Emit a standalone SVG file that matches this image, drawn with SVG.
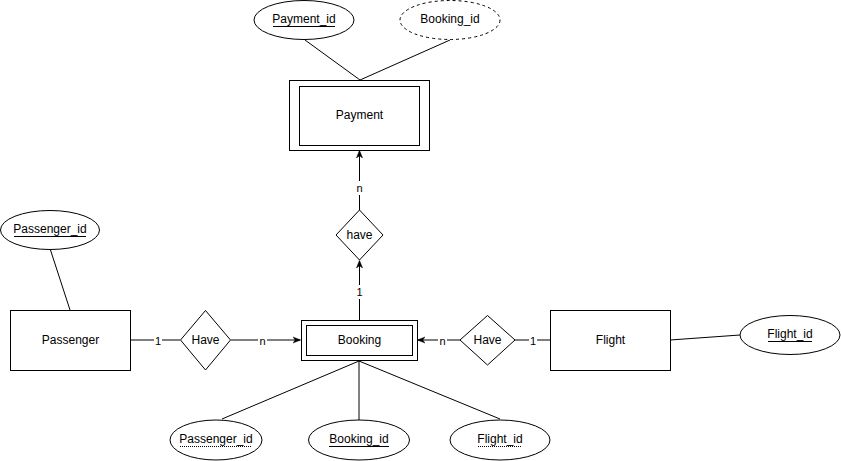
<svg xmlns="http://www.w3.org/2000/svg" width="841" height="461" viewBox="0 0 841 461">
<style>
text{font-family:"Liberation Sans",Arial,sans-serif;font-size:12px;fill:#000;text-anchor:middle;dominant-baseline:central}
.s{fill:#fff;stroke:#000;stroke-width:1}
.d{stroke-dasharray:3 3}
.c{fill:none;stroke:#000;stroke-width:1}
.lb{font-size:11px}
.u{stroke:#000;stroke-width:1}
.du{stroke:#000;stroke-width:1;stroke-dasharray:1 1}
</style>
<defs>
<marker id="arr" viewBox="0 0 10 10" refX="9" refY="5" markerWidth="8" markerHeight="8" orient="auto" markerUnits="userSpaceOnUse">
<path d="M0,1 L10,5 L0,9 L3,5 z" fill="#000" stroke="#000" stroke-width="0.5"/>
</marker>
</defs>
<rect width="841" height="461" fill="#fff"/>
<g id="connectors">
<line class="c" x1="305" y1="40" x2="360" y2="80"/>
<line class="c" x1="450" y1="40" x2="360" y2="80"/>
<line class="c" x1="50.5" y1="250" x2="70" y2="310"/>
<line class="c" x1="670" y1="340" x2="740" y2="335"/>
<line class="c" x1="359" y1="361" x2="222" y2="419"/>
<line class="c" x1="359" y1="361" x2="359" y2="420"/>
<line class="c" x1="359" y1="361" x2="500" y2="419"/>
<line class="c" x1="359.5" y1="210" x2="359.5" y2="151" marker-end="url(#arr)"/>
<line class="c" x1="359.5" y1="320" x2="359.5" y2="261" marker-end="url(#arr)"/>
<line class="c" x1="130" y1="340" x2="180" y2="340"/>
<line class="c" x1="231" y1="340" x2="300" y2="340" marker-end="url(#arr)"/>
<line class="c" x1="550" y1="340" x2="515" y2="340"/>
<line class="c" x1="460" y1="340" x2="418" y2="340" marker-end="url(#arr)"/>
<rect x="355" y="181" width="9" height="14" fill="#fff"/>
<text class="lb" x="359.5" y="188">n</text>
<rect x="355" y="285" width="9" height="14" fill="#fff"/>
<text class="lb" x="359.5" y="292">1</text>
<rect x="154" y="334" width="8" height="13" fill="#fff"/>
<text class="lb" x="158" y="341">1</text>
<rect x="258" y="334" width="9" height="13" fill="#fff"/>
<text class="lb" x="262.5" y="341">n</text>
<rect x="438" y="334" width="9" height="13" fill="#fff"/>
<text class="lb" x="442.5" y="341">n</text>
<rect x="529" y="334" width="8" height="13" fill="#fff"/>
<text class="lb" x="533" y="341">1</text>
</g>
<g id="payment_id">
<ellipse class="s" cx="304" cy="20" rx="50" ry="19.5"/>
<text x="304" y="19">Payment_id</text>
<line class="u" x1="273" y1="26.5" x2="335" y2="26.5"/>
</g>
<g id="payment_booking_id">
<ellipse class="s d" cx="450" cy="20" rx="50" ry="19.5"/>
<text x="450" y="19">Booking_id</text>
</g>
<g id="payment">
<rect class="s" x="289.5" y="80.5" width="140" height="70"/>
<rect class="s" x="299.5" y="86.5" width="120" height="59"/>
<text x="359.5" y="115">Payment</text>
</g>
<g id="have_top">
<path class="s" d="M359.5,210 L383,235 L359.5,260 L336,235 Z"/>
<text x="359.5" y="235">have</text>
</g>
<g id="passenger_id">
<ellipse class="s" cx="50" cy="230" rx="49.5" ry="19.5"/>
<text x="50" y="229">Passenger_id</text>
<line class="u" x1="14" y1="236.5" x2="86" y2="236.5"/>
</g>
<g id="passenger">
<rect class="s" x="10.5" y="310.5" width="120" height="60"/>
<text x="70.5" y="340">Passenger</text>
</g>
<g id="have_left">
<path class="s" d="M205.5,310.5 L230.5,340 L205.5,370 L180.5,340 Z"/>
<text x="205.5" y="340">Have</text>
</g>
<g id="booking">
<rect class="s" x="301.5" y="320.5" width="116" height="40"/>
<rect class="s" x="306.5" y="325.5" width="106" height="30"/>
<text x="359.5" y="340">Booking</text>
</g>
<g id="have_right">
<path class="s" d="M487.5,315.5 L515,340 L487.5,365 L460,340 Z"/>
<text x="487.5" y="340">Have</text>
</g>
<g id="flight">
<rect class="s" x="550.5" y="310.5" width="120" height="60"/>
<text x="610.5" y="340">Flight</text>
</g>
<g id="flight_id">
<ellipse class="s" cx="790" cy="335" rx="50" ry="19.5"/>
<text x="790" y="334">Flight_id</text>
<line class="u" x1="768" y1="341.5" x2="812" y2="341.5"/>
</g>
<g id="booking_passenger_id">
<ellipse class="s" cx="216" cy="440" rx="46" ry="20"/>
<text x="216" y="439">Passenger_id</text>
<line class="du" x1="180" y1="446.5" x2="252" y2="446.5"/>
</g>
<g id="booking_booking_id">
<ellipse class="s" cx="359" cy="440" rx="50.5" ry="20"/>
<text x="359" y="439">Booking_id</text>
<line class="u" x1="329" y1="446.5" x2="389" y2="446.5"/>
</g>
<g id="booking_flight_id">
<ellipse class="s" cx="500" cy="440" rx="50" ry="20"/>
<text x="500" y="439">Flight_id</text>
<line class="du" x1="478" y1="446.5" x2="522" y2="446.5"/>
</g>
</svg>
